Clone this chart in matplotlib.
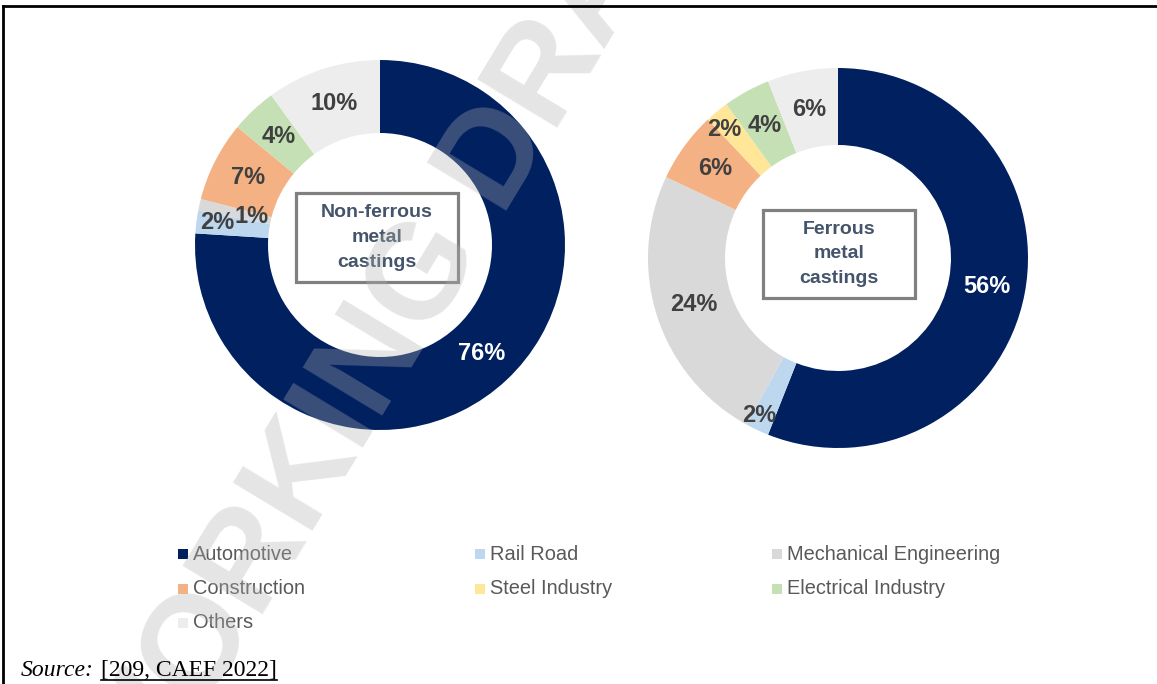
import numpy as np
import matplotlib
matplotlib.use('Agg')
import matplotlib.pyplot as plt
from matplotlib.patches import Rectangle
from matplotlib.lines import Line2D

plt.rcParams['font.family'] = ['Liberation Sans', 'DejaVu Sans']

# data
categories = ['Automotive', 'Rail Road', 'Mechanical Engineering', 'Construction',
              'Steel Industry', 'Electrical Industry', 'Others']
non_ferrous = [76, 2, 1, 7, 0, 4, 10]
ferrous = [56, 2, 24, 6, 2, 4, 6]
colors = ['#002060', '#BDD7EE', '#D9D9D9', '#F4B183', '#FFE699', '#C5E0B4', '#EDEDED']
titles = ['Non-ferrous\nmetal\ncastings', 'Ferrous\nmetal\ncastings']

W, H = 1157, 684
fig = plt.figure(figsize=(W / 100, H / 100), dpi=100)
ax = fig.add_axes([0, 0, 1, 1])

# layout of the two donuts (pixel units, y measured from top)
donuts = [
    dict(values=non_ferrous, cx=380, cy=245, r=185, hole=112,
         box=(296, 193, 458, 282), title=titles[0],
         nudge={1: (-15, -4), 2: (16, 4)}),
    dict(values=ferrous, cx=838, cy=258, r=190, hole=113,
         box=(763, 210, 915, 298), title=titles[1],
         nudge={1: (-14, 20), 4: (-17, -12)}),
]

for d in donuts:
    width = d['r'] - d['hole']
    wedges, _ = ax.pie(d['values'], colors=colors, startangle=90, counterclock=False,
                       radius=d['r'], center=(d['cx'], H - d['cy']),
                       wedgeprops=dict(width=width, linewidth=0))
    rmid = d['r'] - width / 2
    for i, (w, v) in enumerate(zip(wedges, d['values'])):
        if v == 0:
            continue
        ang = np.deg2rad((w.theta1 + w.theta2) / 2)
        x = d['cx'] + rmid * np.cos(ang)
        y = H - d['cy'] + rmid * np.sin(ang)
        dx, dy = d['nudge'].get(i, (0, 0))
        x += dx
        y -= dy
        col = 'white' if i == 0 else '#404040'
        ax.text(x, y, f'{v}%', ha='center', va='center', fontsize=17,
                fontweight='bold', color=col, zorder=5)
    x0, y0, x1, y1 = d['box']
    ax.add_patch(Rectangle((x0, H - y1), x1 - x0, y1 - y0, fill=False,
                           edgecolor='#808080', linewidth=2.3, zorder=4))
    ax.text((x0 + x1) / 2, H - (y0 + y1) / 2, d['title'], ha='center', va='center',
            fontsize=14, fontweight='bold', color='#44546A', linespacing=1.6, zorder=5)

# legend drawn as a 3-column grid
col_x = [178, 475, 772]
row_y = [554, 589, 623]
for i, (cat, c) in enumerate(zip(categories, colors)):
    mx = col_x[i % 3]
    my = row_y[i // 3]
    ax.add_patch(Rectangle((mx, H - my - 5), 10, 10, facecolor=c, edgecolor='none'))
    ax.text(mx + 15, H - my, cat, ha='left', va='center', fontsize=14.4, color='#595959')

# watermark
ax.text(409, H - 305, 'WORKING DRAFT', rotation=58.8, rotation_mode='anchor',
        ha='center', va='center', fontsize=97, fontweight='bold',
        color='#B2B2B2', alpha=0.33, zorder=10)

ax.set_xlim(0, W)
ax.set_ylim(0, H)
ax.set_aspect('equal')
ax.axis('off')

# source line
src = fig.text(21 / W, 1 - 676 / H, 'Source:', fontsize=17, style='italic',
               family='Liberation Serif', ha='left', va='baseline')
fig.canvas.draw()
bb = src.get_window_extent()
ref = fig.text((bb.x1 + 7) / W, 1 - 676 / H, '[209, CAEF 2022]', fontsize=17,
               family='Liberation Serif', ha='left', va='baseline')
fig.canvas.draw()
rb = ref.get_window_extent()
fig.add_artist(Line2D([rb.x0 / W, rb.x1 / W], [1 - 680 / H] * 2,
                      transform=fig.transFigure, color='black', lw=1.2))

# frame lines (top and left)
fig.add_artist(Line2D([3 / W, 1], [1 - 6 / H] * 2, transform=fig.transFigure,
                      color='black', lw=2))
fig.add_artist(Line2D([3 / W, 3 / W], [0, 1 - 6 / H], transform=fig.transFigure,
                      color='black', lw=2))

fig.savefig('out.png', dpi=100)
